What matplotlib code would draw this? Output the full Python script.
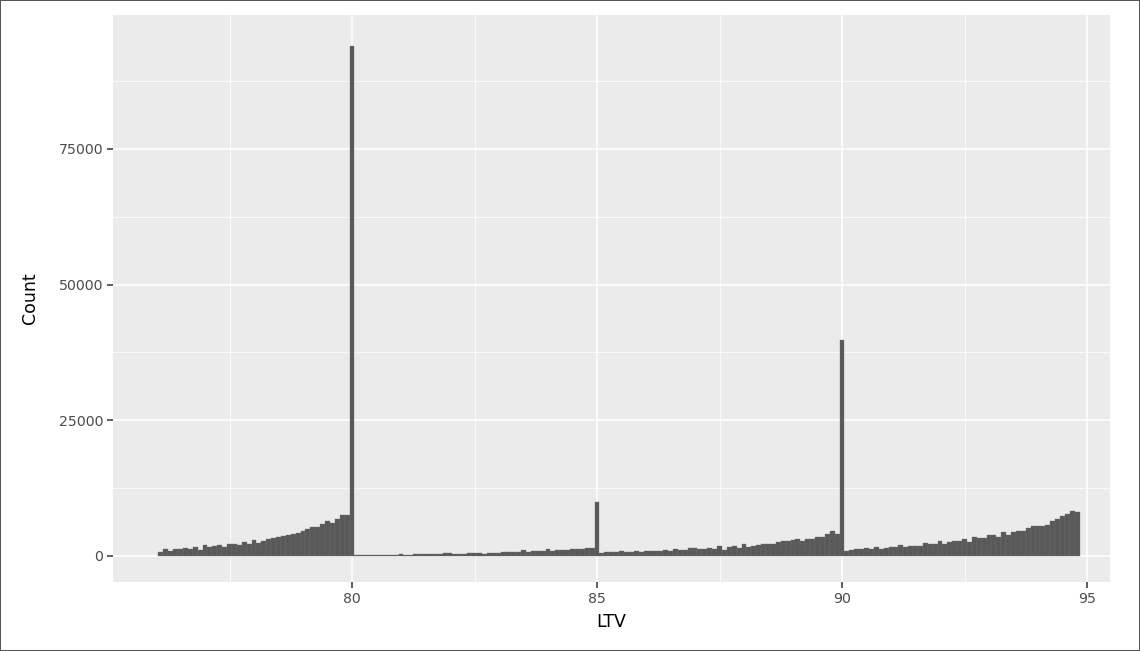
import numpy as np
import matplotlib
matplotlib.use('Agg')
import matplotlib.pyplot as plt
from matplotlib.ticker import FixedLocator

#=============================
# Data : histogram of LTV, bins 0.1 wide
#=============================
bin_start = 76.05
bin_width = 0.1
counts = [
    # 76.1 - 77.0
    800, 1290, 920, 1290, 1290, 1470, 1290, 1660, 1170, 1960,
    # 77.1 - 78.0
    1600, 1840, 1960, 1720, 2210, 2210, 2090, 2520, 2300, 2890,
    # 78.1 - 79.0
    2330, 2820, 3070, 3250, 3440, 3620, 3870, 4110, 4300, 4670,
    # 79.1 - 80.0
    4910, 5280, 5280, 5830, 6510, 6080, 6820, 7490, 7490, 94000,
    # 80.1 - 81.0
    150, 130, 140, 160, 180, 190, 200, 210, 230, 380,
    # 81.1 - 82.0
    260, 270, 300, 280, 360, 350, 370, 330, 480, 500,
    # 82.1 - 83.0
    380, 400, 380, 520, 600, 600, 400, 600, 500, 600,
    # 83.1 - 84.0
    800, 650, 800, 800, 1100, 800, 850, 900, 950, 1250,
    # 84.1 - 85.0
    850, 1050, 1050, 1150, 1200, 1250, 1300, 1450, 1500, 10000,
    # 85.1 - 86.0
    550, 700, 650, 650, 900, 650, 650, 900, 750, 1000,
    # 86.1 - 87.0
    850, 850, 1000, 1150, 850, 1250, 1100, 1150, 1450, 1450,
    # 87.1 - 88.0
    1350, 1250, 1450, 1300, 1850, 1100, 1600, 1850, 1450, 2300,
    # 88.1 - 89.0
    1650, 1900, 1950, 2300, 2150, 2250, 2550, 2800, 2800, 2900,
    # 89.1 - 90.0
    3050, 2800, 3200, 3200, 3450, 3560, 3990, 4600, 4050, 39800,
    # 90.1 - 91.0
    900, 1050, 1250, 1250, 1400, 1250, 1650, 1300, 1450, 1700,
    # 91.1 - 92.0
    1600, 2000, 1600, 1850, 1900, 1900, 2350, 2150, 2200, 2800,
    # 92.1 - 93.0
    2300, 2500, 2750, 2800, 3100, 2650, 3550, 3250, 3300, 3800,
    # 93.1 - 94.0
    3800, 3450, 4350, 3800, 4500, 4600, 4600, 5200, 5600, 5600,
    # 94.1 - 94.8
    5550, 5750, 6450, 6750, 7350, 7800, 8300, 8100,
]
lefts = bin_start + bin_width * np.arange(len(counts))

x_major = [80, 85, 90, 95]
x_minor = [77.5, 82.5, 87.5, 92.5]
y_major = [0, 25000, 50000, 75000]
y_minor = [12500, 37500, 62500, 87500]

#=============================
# plot (ggplot grey theme look)
#=============================
fig = plt.figure(figsize=(11.4, 6.51), dpi=100)
fig.patch.set_edgecolor('#555555')
fig.patch.set_linewidth(1.2)

ax = fig.add_axes([0.0991, 0.106, 0.8746, 0.871])
ax.set_facecolor('#EBEBEB')
ax.bar(lefts, counts, width=bin_width, align='edge', color='#595959',
       edgecolor='#6E6E6E', linewidth=0.25)

ax.set_xlim(75.122, 95.469)
ax.set_ylim(-4790, 99670)

ax.xaxis.set_major_locator(FixedLocator(x_major))
ax.xaxis.set_minor_locator(FixedLocator(x_minor))
ax.yaxis.set_major_locator(FixedLocator(y_major))
ax.yaxis.set_minor_locator(FixedLocator(y_minor))
ax.grid(which='major', color='white', lw=1.1)
ax.grid(which='minor', color='white', lw=0.55)
ax.set_axisbelow(True)

for s in ax.spines.values():
    s.set_visible(False)
ax.tick_params(which='major', length=4, width=1.1, color='#333333',
               labelcolor='#4D4D4D', labelsize=10.2, pad=3)
ax.tick_params(which='minor', length=0)

ax.set_xlabel('LTV', fontsize=12.5, labelpad=5)
ax.set_ylabel('Count', fontsize=12.5, labelpad=14)

plt.savefig('out.png', dpi=100, edgecolor=fig.patch.get_edgecolor())
